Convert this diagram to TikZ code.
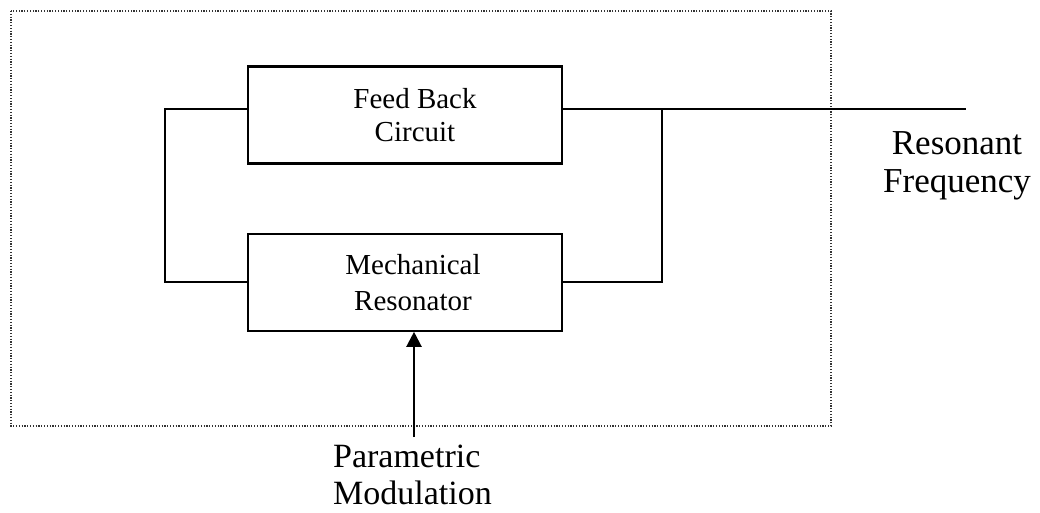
\documentclass[tikz,border=0pt]{standalone}
\usepackage{fontspec}
\setmainfont{Liberation Serif}
\usetikzlibrary{positioning,arrows.meta}

\begin{document}
\begin{tikzpicture}[%
		x=1pt,
		y=-1pt,
		>={Triangle[width=15pt,length=15pt]},
		line width=2.2pt,
		node distance=68pt,
		block/.style={%
			minimum width=314pt,
			minimum height=97pt,
			inner sep=0pt,
			align=center,
			draw
		},
		frame/.style={%
			line width=1.2pt,
			dash pattern=on 1.2pt off 1.6pt,
			black!80
		},
		caption/.style={%
			inner sep=0pt,
			font=\fontsize{35}{38}\selectfont
		}
		]
		\useasboundingbox (0,0) rectangle (1040,512);
		\draw[frame] (11,11) rectangle (831,426);
		
		\node[block, font=\fontsize{29}{33}\selectfont] (fb) at (405,115)        {\hspace*{20pt}Feed Back\\\hspace*{20pt}Circuit};
		\node[block, font=\fontsize{29}{36}\selectfont] (mr) [below=of fb]      {\hspace*{16pt}Mechanical\\\hspace*{16pt}Resonator};
		\node[caption, align=center, anchor=north] (rf) at (957,130)             {Resonant\\Frequency};
		\node[caption, align=left, anchor=north west,
		      font=\fontsize{34}{37}\selectfont] (pm) at (332,444)              {Parametric\\Modulation};
		
		\coordinate (jn)  at (662,109);
		\coordinate (out) at (966,109);
		\coordinate (src) at (414,437);
		
		\draw ([yshift=6pt]fb.east) -- (out);
		\draw (mr.east) -| (jn);
		\draw ([yshift=6pt]fb.west) -- ++(-82,0) |- (mr.west);
		\draw[->] (src) -- (src |- mr.south);
		\end{tikzpicture}
\end{document}
